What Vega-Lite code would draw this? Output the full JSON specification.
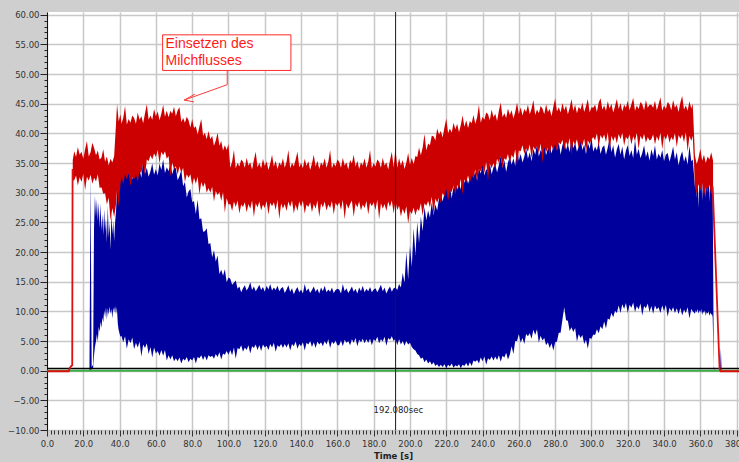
{
  "$schema": "https://vega.github.io/schema/vega-lite/v6.json",
  "width": 692,
  "height": 418,
  "autosize": {"type": "none"},
  "padding": {"left": 47, "top": 12, "right": 0, "bottom": 32},
  "background": "#cfcfcf",
  "config": {
    "view": {"fill": "white", "stroke": null},
    "axis": {"labelFont": "DejaVu Sans", "labelFontSize": 8.5, "labelColor": "#333333", "titleFont": "DejaVu Sans"}
  },
  "datasets": {
    "blue": [
      {"t":23.4,"v":0,"v2":0},{"t":24.0,"v":0.2,"v2":33.0},{"t":24.6,"v":0.2,"v2":0.6},{"t":25.4,"v":0.4,"v2":1.0},
      {"t":25.9,"v":2.5,"v2":24.0},{"t":26.4,"v":4.0,"v2":29.5},{"t":27.0,"v":5.0,"v2":26.0},{"t":27.5,"v":6.2,"v2":28.9},
      {"t":28.0,"v":4.8,"v2":25.2},{"t":28.5,"v":7.4,"v2":28.4},{"t":29.0,"v":6.5,"v2":24.0},{"t":29.5,"v":8.3,"v2":28.2},
      {"t":30.0,"v":7.2,"v2":23.5},{"t":30.5,"v":9.0,"v2":26.4},{"t":31.0,"v":8.1,"v2":22.8},{"t":31.5,"v":10.2,"v2":27.2},
      {"t":32.0,"v":9.0,"v2":23.6},{"t":32.5,"v":10.7,"v2":25.6},{"t":33.0,"v":8.6,"v2":21.5},{"t":33.5,"v":10.5,"v2":27.8},
      {"t":34.0,"v":9.4,"v2":22.4},{"t":34.5,"v":10.8,"v2":25.0},{"t":35.0,"v":9.6,"v2":20.4},{"t":35.5,"v":10.4,"v2":26.6},
      {"t":36.0,"v":8.8,"v2":23.0},{"t":36.5,"v":10.6,"v2":25.2},{"t":37.0,"v":9.9,"v2":21.8},{"t":37.5,"v":10.9,"v2":24.9},
      {"t":38.0,"v":9.5,"v2":26.8},{"t":38.5,"v":10.7,"v2":29.5},{"t":39.0,"v":8.0,"v2":31.0},{"t":39.4,"v":7.0,"v2":33.2},
      {"t":40.4,"v":5.7,"v2":32.4},{"t":41,"v":5.9,"v2":34.1},{"t":42,"v":4.8,"v2":32.6},{"t":43,"v":5.8,"v2":33.8},
      {"t":44,"v":3.7,"v2":35.3},{"t":45,"v":5.3,"v2":33.1},{"t":46,"v":4.6,"v2":34.3},{"t":47,"v":5.6,"v2":32.2},
      {"t":48,"v":3.6,"v2":33.7},{"t":49,"v":4.7,"v2":34.6},{"t":50,"v":3.9,"v2":32.9},{"t":51,"v":4.9,"v2":33.9},
      {"t":52,"v":2.4,"v2":32.5},{"t":53,"v":4.4,"v2":35.7},{"t":54,"v":3.8,"v2":33.2},{"t":55,"v":4.6,"v2":34.2},
      {"t":56,"v":2.8,"v2":32.7},{"t":57,"v":4.0,"v2":33.6},{"t":58,"v":2.2,"v2":34.9},{"t":59,"v":3.9,"v2":33.0},
      {"t":60,"v":2.9,"v2":34.0},{"t":61,"v":3.3,"v2":32.9},{"t":62,"v":2.5,"v2":34.9},{"t":63,"v":3.5,"v2":33.8},
      {"t":64,"v":2.5,"v2":35.6},{"t":65,"v":3.5,"v2":33.3},{"t":66,"v":1.7,"v2":34.3},{"t":67,"v":2.6,"v2":33.6},
      {"t":68,"v":1.9,"v2":35.0},{"t":69,"v":2.6,"v2":33.1},{"t":70,"v":1.6,"v2":34.2},{"t":71,"v":2.1,"v2":34.1},
      {"t":72,"v":1.6,"v2":32.1},{"t":73,"v":2.2,"v2":32.8},{"t":74,"v":1.2,"v2":33.8},{"t":75,"v":2.0,"v2":31.1},
      {"t":76,"v":1.7,"v2":31.8},{"t":77,"v":2.3,"v2":29.2},{"t":78,"v":1.4,"v2":30.2},{"t":79,"v":2.0,"v2":30.6},
      {"t":80,"v":1.7,"v2":28.4},{"t":81,"v":2.3,"v2":28.6},{"t":82,"v":1.2,"v2":26.4},{"t":83,"v":2.3,"v2":28.8},
      {"t":84,"v":2.1,"v2":25.5},{"t":85,"v":2.6,"v2":25.7},{"t":86,"v":1.8,"v2":23.4},{"t":87,"v":2.5,"v2":23.5},
      {"t":88,"v":1.7,"v2":24.0},{"t":89,"v":2.6,"v2":21.3},{"t":90,"v":2.3,"v2":21.5},{"t":91,"v":2.5,"v2":19.1},
      {"t":92,"v":2.0,"v2":20.3},{"t":93,"v":2.8,"v2":18.4},{"t":94,"v":2.3,"v2":19.4},{"t":95,"v":3.1,"v2":16.3},
      {"t":96,"v":1.9,"v2":17.0},{"t":97,"v":2.9,"v2":16.0},{"t":98,"v":2.7,"v2":17.1},{"t":99,"v":3.3,"v2":14.9},
      {"t":100,"v":2.7,"v2":15.7},{"t":101,"v":3.5,"v2":15.5},{"t":102,"v":2.6,"v2":14.5},{"t":103,"v":3.9,"v2":14.8},
      {"t":104,"v":2.0,"v2":15.2},{"t":105,"v":3.8,"v2":13.8},{"t":106,"v":3.6,"v2":14.2},{"t":107,"v":4.3,"v2":13.2},
      {"t":108,"v":3.2,"v2":13.9},{"t":109,"v":3.9,"v2":14.4},{"t":110,"v":3.5,"v2":13.5},{"t":111,"v":4.3,"v2":14.0},
      {"t":112,"v":2.9,"v2":14.9},{"t":113,"v":4.1,"v2":13.6},{"t":114,"v":3.8,"v2":14.2},{"t":115,"v":4.4,"v2":13.4},
      {"t":116,"v":3.5,"v2":13.9},{"t":117,"v":4.3,"v2":14.5},{"t":118,"v":3.3,"v2":13.6},{"t":119,"v":4.4,"v2":14.1},
      {"t":120,"v":3.9,"v2":13.3},{"t":121,"v":4.2,"v2":14.3},{"t":122,"v":3.5,"v2":13.7},{"t":123,"v":4.5,"v2":14.6},
      {"t":124,"v":3.9,"v2":13.5},{"t":125,"v":4.7,"v2":14.0},{"t":126,"v":3.2,"v2":13.6},{"t":127,"v":4.3,"v2":14.3},
      {"t":128,"v":4.0,"v2":13.4},{"t":129,"v":4.5,"v2":13.9},{"t":130,"v":3.8,"v2":14.1},{"t":131,"v":4.5,"v2":13.1},
      {"t":132,"v":3.9,"v2":13.7},{"t":133,"v":4.6,"v2":14.4},{"t":134,"v":3.4,"v2":13.3},{"t":135,"v":4.5,"v2":13.9},
      {"t":136,"v":4.1,"v2":12.9},{"t":137,"v":4.9,"v2":13.6},{"t":138,"v":3.7,"v2":14.1},{"t":139,"v":4.5,"v2":13.2},
      {"t":140,"v":4.1,"v2":13.7},{"t":141,"v":4.8,"v2":13.0},{"t":142,"v":3.4,"v2":14.6},{"t":143,"v":4.7,"v2":13.4},
      {"t":144,"v":4.4,"v2":13.9},{"t":145,"v":5.0,"v2":13.1},{"t":146,"v":4.0,"v2":13.6},{"t":147,"v":4.8,"v2":14.2},
      {"t":148,"v":3.8,"v2":13.3},{"t":149,"v":4.9,"v2":13.8},{"t":150,"v":4.4,"v2":13.0},{"t":151,"v":4.8,"v2":14.0},
      {"t":152,"v":4.1,"v2":13.4},{"t":153,"v":5.0,"v2":14.3},{"t":154,"v":4.4,"v2":13.2},{"t":155,"v":5.3,"v2":13.7},
      {"t":156,"v":3.8,"v2":13.3},{"t":157,"v":4.9,"v2":14.0},{"t":158,"v":4.5,"v2":13.1},{"t":159,"v":5.1,"v2":13.6},
      {"t":160,"v":4.3,"v2":13.8},{"t":161,"v":4.3,"v2":13.7},{"t":162,"v":5.1,"v2":13.0},{"t":163,"v":4.1,"v2":14.6},
      {"t":164,"v":5.2,"v2":13.4},{"t":165,"v":4.7,"v2":13.9},{"t":166,"v":5.0,"v2":13.1},{"t":167,"v":4.3,"v2":13.6},
      {"t":168,"v":5.3,"v2":14.2},{"t":169,"v":4.7,"v2":13.3},{"t":170,"v":5.5,"v2":13.8},{"t":171,"v":4.1,"v2":13.0},
      {"t":172,"v":5.2,"v2":14.0},{"t":173,"v":4.8,"v2":13.4},{"t":174,"v":5.4,"v2":14.3},{"t":175,"v":4.6,"v2":13.2},
      {"t":176,"v":5.3,"v2":13.8},{"t":177,"v":4.7,"v2":13.4},{"t":178,"v":5.4,"v2":14.1},{"t":179,"v":4.3,"v2":13.2},
      {"t":180,"v":5.3,"v2":13.7},{"t":181,"v":5.0,"v2":13.9},{"t":182,"v":5.7,"v2":13.2},{"t":183,"v":4.6,"v2":13.8},
      {"t":184,"v":5.3,"v2":14.5},{"t":185,"v":4.9,"v2":13.4},{"t":186,"v":5.7,"v2":14.0},{"t":187,"v":4.2,"v2":13.0},
      {"t":188,"v":5.5,"v2":13.7},{"t":189,"v":5.2,"v2":14.2},{"t":190,"v":5.8,"v2":13.3},{"t":191,"v":5.0,"v2":13.9},
      {"t":192,"v":5.4,"v2":14.0},{"t":193,"v":4.3,"v2":13.6},{"t":194,"v":5.3,"v2":14.6},{"t":195,"v":4.4,"v2":14.0},
      {"t":196,"v":5.0,"v2":16.5},{"t":197,"v":4.2,"v2":14.8},{"t":198,"v":5.0,"v2":20.0},{"t":199,"v":4.4,"v2":15.4},
      {"t":200,"v":4.7,"v2":21.0},{"t":201,"v":4.0,"v2":17.5},{"t":202,"v":3.6,"v2":24.0},{"t":203,"v":3.4,"v2":19.5},
      {"t":204,"v":2.8,"v2":25.0},{"t":205,"v":2.6,"v2":21.5},{"t":206,"v":2.0,"v2":26.0},{"t":207,"v":2.2,"v2":23.5},
      {"t":208,"v":1.4,"v2":27.6},{"t":209,"v":1.9,"v2":25.4},{"t":210,"v":1.2,"v2":27.0},{"t":211,"v":1.6,"v2":25.8},
      {"t":212,"v":1.0,"v2":28.4},{"t":213,"v":1.4,"v2":26.2},{"t":214,"v":0.8,"v2":28.0},{"t":215,"v":1.1,"v2":27.0},
      {"t":216,"v":0.6,"v2":29.0},{"t":217,"v":1.0,"v2":29.8},{"t":218,"v":0.6,"v2":28.5},{"t":219,"v":1.1,"v2":29.9},
      {"t":220,"v":0.4,"v2":31.6},{"t":221,"v":1.0,"v2":29.6},{"t":222,"v":0.7,"v2":31.0},{"t":223,"v":1.2,"v2":29.1},
      {"t":224,"v":0.5,"v2":30.9},{"t":225,"v":0.9,"v2":32.0},{"t":226,"v":0.7,"v2":30.5},{"t":227,"v":1.1,"v2":31.7},
      {"t":228,"v":0.4,"v2":30.5},{"t":229,"v":1.0,"v2":33.9},{"t":230,"v":0.8,"v2":31.6},{"t":231,"v":1.3,"v2":32.8},
      {"t":232,"v":0.7,"v2":31.5},{"t":233,"v":1.4,"v2":32.6},{"t":234,"v":0.8,"v2":34.2},{"t":235,"v":1.7,"v2":32.5},
      {"t":236,"v":1.5,"v2":33.6},{"t":237,"v":1.8,"v2":32.1},{"t":238,"v":1.2,"v2":34.2},{"t":239,"v":2.2,"v2":33.2},
      {"t":240,"v":1.6,"v2":35.1},{"t":241,"v":2.4,"v2":32.9},{"t":242,"v":1.0,"v2":34.0},{"t":243,"v":2.1,"v2":33.4},
      {"t":244,"v":1.8,"v2":34.9},{"t":245,"v":2.4,"v2":33.1},{"t":246,"v":1.7,"v2":34.3},{"t":247,"v":2.4,"v2":34.8},
      {"t":248,"v":1.8,"v2":33.4},{"t":249,"v":2.6,"v2":34.7},{"t":250,"v":1.5,"v2":36.3},{"t":251,"v":2.5,"v2":34.2},
      {"t":252,"v":2.2,"v2":35.5},{"t":253,"v":3.0,"v2":33.5},{"t":254,"v":1.9,"v2":35.1},{"t":255,"v":2.7,"v2":36.1},
      {"t":256,"v":4.1,"v2":34.7},{"t":257,"v":2.8,"v2":35.8},{"t":258,"v":5.0,"v2":34.5},{"t":259,"v":5.0,"v2":37.8},
      {"t":260,"v":6.2,"v2":35.4},{"t":261,"v":4.7,"v2":36.5},{"t":262,"v":5.5,"v2":35.1},{"t":263,"v":4.5,"v2":36.1},
      {"t":264,"v":6.2,"v2":37.5},{"t":265,"v":5.8,"v2":35.7},{"t":266,"v":6.3,"v2":36.8},{"t":267,"v":5.4,"v2":35.3},
      {"t":268,"v":6.9,"v2":37.4},{"t":269,"v":6.0,"v2":36.4},{"t":270,"v":7.0,"v2":38.3},{"t":271,"v":4.7,"v2":36.1},
      {"t":272,"v":5.9,"v2":37.2},{"t":273,"v":5.1,"v2":36.6},{"t":274,"v":5.5,"v2":38.1},{"t":275,"v":4.3,"v2":36.3},
      {"t":276,"v":4.8,"v2":37.5},{"t":277,"v":3.8,"v2":38.0},{"t":278,"v":4.6,"v2":36.6},{"t":279,"v":3.4,"v2":37.9},
      {"t":280,"v":4.8,"v2":39.4},{"t":281,"v":4.9,"v2":37.2},{"t":282,"v":6.4,"v2":38.5},{"t":283,"v":6.4,"v2":36.4},
      {"t":284,"v":8.6,"v2":38.0},{"t":285,"v":10.7,"v2":38.9},{"t":286,"v":8.5,"v2":37.2},{"t":287,"v":8.4,"v2":38.2},
      {"t":288,"v":6.7,"v2":36.8},{"t":289,"v":7.3,"v2":39.5},{"t":290,"v":6.5,"v2":37.5},{"t":291,"v":7.2,"v2":38.4},
      {"t":292,"v":4.9,"v2":36.9},{"t":293,"v":6.2,"v2":37.8},{"t":294,"v":5.5,"v2":39.1},{"t":295,"v":6.0,"v2":37.2},
      {"t":296,"v":4.5,"v2":38.1},{"t":297,"v":5.2,"v2":36.5},{"t":298,"v":3.7,"v2":38.5},{"t":299,"v":5.5,"v2":37.4},
      {"t":300,"v":5.4,"v2":39.2},{"t":301,"v":6.1,"v2":36.9},{"t":302,"v":6.0,"v2":37.8},{"t":303,"v":7.0,"v2":37.1},
      {"t":304,"v":6.3,"v2":38.5},{"t":305,"v":7.5,"v2":36.5},{"t":306,"v":7.0,"v2":37.6},{"t":307,"v":8.3,"v2":38.0},
      {"t":308,"v":7.1,"v2":36.4},{"t":309,"v":8.8,"v2":37.6},{"t":310,"v":8.6,"v2":39.1},{"t":311,"v":9.7,"v2":36.8},
      {"t":312,"v":9.0,"v2":38.0},{"t":313,"v":10.1,"v2":35.9},{"t":314,"v":9.7,"v2":37.3},{"t":315,"v":11.0,"v2":38.2},
      {"t":316,"v":9.7,"v2":36.4},{"t":317,"v":11.2,"v2":37.8},{"t":318,"v":10.4,"v2":35.6},{"t":319,"v":11.4,"v2":37.1},
      {"t":320,"v":9.7,"v2":38.0},{"t":321,"v":11.1,"v2":36.2},{"t":322,"v":10.6,"v2":37.2},{"t":323,"v":11.5,"v2":35.8},
      {"t":324,"v":9.9,"v2":38.9},{"t":325,"v":10.9,"v2":36.4},{"t":326,"v":10.3,"v2":37.4},{"t":327,"v":11.3,"v2":35.8},
      {"t":328,"v":9.3,"v2":36.7},{"t":329,"v":10.9,"v2":38.0},{"t":330,"v":10.5,"v2":36.0},{"t":331,"v":11.3,"v2":37.0},
      {"t":332,"v":9.9,"v2":35.4},{"t":333,"v":10.9,"v2":37.3},{"t":334,"v":9.6,"v2":36.2},{"t":335,"v":11.0,"v2":38.0},
      {"t":336,"v":10.3,"v2":35.6},{"t":337,"v":10.7,"v2":36.6},{"t":338,"v":9.7,"v2":35.9},{"t":339,"v":11.0,"v2":37.2},
      {"t":340,"v":10.0,"v2":35.3},{"t":341,"v":11.1,"v2":36.4},{"t":342,"v":9.1,"v2":36.7},{"t":343,"v":10.6,"v2":35.2},
      {"t":344,"v":10.0,"v2":36.4},{"t":345,"v":10.7,"v2":37.8},{"t":346,"v":9.7,"v2":35.6},{"t":347,"v":10.5,"v2":36.8},
      {"t":348,"v":9.5,"v2":34.6},{"t":349,"v":10.6,"v2":36.1},{"t":350,"v":9.3,"v2":37.0},{"t":351,"v":10.3,"v2":35.2},
      {"t":352,"v":9.7,"v2":36.2},{"t":353,"v":10.7,"v2":34.7},{"t":354,"v":8.8,"v2":37.9},{"t":355,"v":10.4,"v2":35.3},
      {"t":355.8,"v":10.0,"v2":35.6},{"t":356.5,"v":9.8,"v2":33.0},{"t":357,"v":9.6,"v2":31.0},{"t":357.5,"v":10.2,"v2":34.2},
      {"t":358,"v":9.8,"v2":29.0},{"t":358.5,"v":10.4,"v2":33.6},{"t":359,"v":9.6,"v2":27.4},{"t":359.5,"v":10.2,"v2":32.4},
      {"t":360,"v":9.8,"v2":30.2},{"t":360.5,"v":10.4,"v2":34.0},{"t":361,"v":9.4,"v2":28.6},{"t":361.5,"v":10.0,"v2":33.2},
      {"t":362,"v":9.7,"v2":30.8},{"t":362.5,"v":10.2,"v2":34.4},{"t":363,"v":9.2,"v2":29.0},{"t":363.5,"v":9.9,"v2":33.0},
      {"t":364,"v":9.6,"v2":30.0},{"t":364.5,"v":10.0,"v2":34.2},{"t":365,"v":9.2,"v2":28.4},{"t":365.5,"v":9.8,"v2":32.8},
      {"t":366,"v":9.4,"v2":30.6},{"t":366.4,"v":9.6,"v2":33.6},{"t":366.8,"v":9.0,"v2":30.6},{"t":367.4,"v":0.4,"v2":0.8},
      {"t":368,"v":0,"v2":0},{"t":370.9,"v":0,"v2":0},{"t":371.3,"v":0,"v2":3.8},{"t":371.7,"v":0,"v2":0}
    ],
    "red": [
      {"t":14.2,"v":32.0,"v2":35.5},{"t":15,"v":32.1,"v2":37.0},{"t":16,"v":32.9,"v2":36.0},{"t":17,"v":31.2,"v2":37.7},
      {"t":18,"v":32.6,"v2":36.4},{"t":19,"v":31.8,"v2":36.9},{"t":20,"v":33.2,"v2":35.7},{"t":21,"v":30.4,"v2":37.3},
      {"t":22,"v":32.7,"v2":38.7},{"t":23,"v":32.0,"v2":36.1},{"t":24,"v":33.0,"v2":36.8},{"t":25,"v":31.5,"v2":38.4},
      {"t":26,"v":32.5,"v2":37.5},{"t":27,"v":31.9,"v2":36.3},{"t":28,"v":33.1,"v2":37.1},{"t":29,"v":30.8,"v2":35.6},
      {"t":30,"v":30.9,"v2":35.9},{"t":31,"v":29.8,"v2":37.3},{"t":32,"v":29.9,"v2":35.2},{"t":33,"v":28.0,"v2":36.1},
      {"t":34,"v":29.2,"v2":34.6},{"t":35,"v":25.3,"v2":35.7},{"t":36,"v":27.4,"v2":35.1},{"t":37,"v":25.9,"v2":36.2},
      {"t":38,"v":28.0,"v2":41.5},{"t":38.6,"v":30.5,"v2":45.0},{"t":39.5,"v":27.5,"v2":42.0},{"t":40.5,"v":31.5,"v2":43.2},
      {"t":41,"v":32.7,"v2":41.6},{"t":42,"v":31.5,"v2":42.6},{"t":43,"v":33.1,"v2":44.6},{"t":44,"v":32.2,"v2":41.5},
      {"t":45,"v":33.3,"v2":42.4},{"t":46,"v":31.1,"v2":41.8},{"t":47,"v":32.6,"v2":43.0},{"t":48,"v":32.2,"v2":42.6},
      {"t":49,"v":33.0,"v2":41.6},{"t":50,"v":31.8,"v2":43.5},{"t":51,"v":33.6,"v2":42.3},{"t":52,"v":33.3,"v2":42.9},
      {"t":53,"v":35.1,"v2":41.7},{"t":54,"v":32.8,"v2":43.4},{"t":55,"v":35.6,"v2":44.9},{"t":56,"v":35.3,"v2":42.3},
      {"t":57,"v":36.3,"v2":43.0},{"t":58,"v":35.6,"v2":42.3},{"t":59,"v":36.6,"v2":44.1},{"t":60,"v":36.0,"v2":42.9},
      {"t":61,"v":37.2,"v2":43.7},{"t":62,"v":34.9,"v2":42.2},{"t":63,"v":36.9,"v2":43.3},{"t":64,"v":36.3,"v2":44.8},
      {"t":65,"v":37.0,"v2":42.8},{"t":66,"v":35.7,"v2":43.8},{"t":67,"v":36.2,"v2":42.7},{"t":68,"v":32.6,"v2":43.8},
      {"t":69,"v":35.1,"v2":43.3},{"t":70,"v":33.9,"v2":44.5},{"t":71,"v":34.5,"v2":42.9},{"t":72,"v":33.0,"v2":43.9},
      {"t":73,"v":34.4,"v2":44.4},{"t":74,"v":33.3,"v2":41.9},{"t":75,"v":34.2,"v2":42.6},{"t":76,"v":31.8,"v2":41.8},
      {"t":77,"v":33.1,"v2":42.8},{"t":78,"v":32.5,"v2":42.2},{"t":79,"v":33.1,"v2":41.0},{"t":80,"v":31.3,"v2":42.4},
      {"t":81,"v":32.5,"v2":40.9},{"t":82,"v":31.5,"v2":41.2},{"t":83,"v":32.7,"v2":39.8},{"t":84,"v":29.7,"v2":41.2},
      {"t":85,"v":31.8,"v2":42.4},{"t":86,"v":30.9,"v2":39.6},{"t":87,"v":31.7,"v2":40.1},{"t":88,"v":30.0,"v2":39.0},
      {"t":89,"v":30.8,"v2":40.4},{"t":90,"v":30.0,"v2":39.0},{"t":91,"v":31.0,"v2":39.6},{"t":92,"v":28.5,"v2":37.9},
      {"t":93,"v":30.3,"v2":38.8},{"t":94,"v":29.6,"v2":40.1},{"t":95,"v":30.1,"v2":37.9},{"t":96,"v":28.6,"v2":38.7},
      {"t":97,"v":30.1,"v2":37.1},{"t":98,"v":26.6,"v2":38.0},{"t":99,"v":29.1,"v2":37.2},{"t":100,"v":28.0,"v2":38.2},
      {"t":101,"v":28.1,"v2":34.2},{"t":102,"v":26.9,"v2":35.2},{"t":103,"v":28.5,"v2":37.2},{"t":104,"v":27.6,"v2":34.1},
      {"t":105,"v":28.7,"v2":35.0},{"t":106,"v":26.5,"v2":34.4},{"t":107,"v":28.0,"v2":35.6},{"t":108,"v":27.6,"v2":35.2},
      {"t":109,"v":28.4,"v2":34.2},{"t":110,"v":26.7,"v2":35.9},{"t":111,"v":28.1,"v2":34.6},{"t":112,"v":27.3,"v2":35.1},
      {"t":113,"v":28.7,"v2":33.9},{"t":114,"v":25.9,"v2":35.5},{"t":115,"v":28.2,"v2":36.9},{"t":116,"v":27.5,"v2":34.3},
      {"t":117,"v":28.5,"v2":35.0},{"t":118,"v":27.0,"v2":34.1},{"t":119,"v":28.0,"v2":35.7},{"t":120,"v":27.4,"v2":34.5},
      {"t":121,"v":28.6,"v2":35.3},{"t":122,"v":26.3,"v2":33.8},{"t":123,"v":28.3,"v2":34.9},{"t":124,"v":27.7,"v2":36.4},
      {"t":125,"v":28.4,"v2":34.4},{"t":126,"v":27.1,"v2":35.4},{"t":127,"v":28.8,"v2":34.0},{"t":128,"v":25.5,"v2":35.1},
      {"t":129,"v":28.2,"v2":34.6},{"t":130,"v":27.3,"v2":35.8},{"t":131,"v":28.1,"v2":34.2},{"t":132,"v":26.9,"v2":35.2},
      {"t":133,"v":28.5,"v2":37.2},{"t":134,"v":27.6,"v2":34.1},{"t":135,"v":28.7,"v2":35.0},{"t":136,"v":26.5,"v2":34.4},
      {"t":137,"v":28.0,"v2":35.6},{"t":138,"v":26.9,"v2":36.9},{"t":139,"v":28.5,"v2":34.3},{"t":140,"v":27.6,"v2":35.0},
      {"t":141,"v":28.7,"v2":34.1},{"t":142,"v":26.5,"v2":35.7},{"t":143,"v":28.0,"v2":34.5},{"t":144,"v":27.6,"v2":35.3},
      {"t":145,"v":28.4,"v2":33.8},{"t":146,"v":26.7,"v2":34.9},{"t":147,"v":28.1,"v2":36.4},{"t":148,"v":27.3,"v2":34.4},
      {"t":149,"v":28.7,"v2":35.4},{"t":150,"v":25.9,"v2":34.0},{"t":151,"v":28.2,"v2":35.1},{"t":152,"v":27.5,"v2":34.6},
      {"t":153,"v":28.5,"v2":35.8},{"t":154,"v":27.0,"v2":34.2},{"t":155,"v":28.0,"v2":35.2},{"t":156,"v":27.4,"v2":37.2},
      {"t":157,"v":28.6,"v2":34.1},{"t":158,"v":26.3,"v2":35.0},{"t":159,"v":28.3,"v2":34.4},{"t":160,"v":27.7,"v2":35.6},
      {"t":161,"v":28.4,"v2":35.2},{"t":162,"v":27.1,"v2":34.2},{"t":163,"v":28.8,"v2":35.9},{"t":164,"v":25.5,"v2":34.6},
      {"t":165,"v":28.2,"v2":35.1},{"t":166,"v":27.3,"v2":33.9},{"t":167,"v":28.1,"v2":35.5},{"t":168,"v":28.7,"v2":34.9},
      {"t":169,"v":25.9,"v2":36.4},{"t":170,"v":28.2,"v2":34.4},{"t":171,"v":27.5,"v2":35.4},{"t":172,"v":28.5,"v2":34.0},
      {"t":173,"v":27.0,"v2":35.1},{"t":174,"v":28.0,"v2":34.6},{"t":175,"v":27.4,"v2":35.8},{"t":176,"v":28.6,"v2":34.2},
      {"t":177,"v":26.3,"v2":35.2},{"t":178,"v":28.3,"v2":37.2},{"t":179,"v":27.7,"v2":34.1},{"t":180,"v":28.4,"v2":35.0},
      {"t":181,"v":27.1,"v2":34.4},{"t":182,"v":28.8,"v2":35.6},{"t":183,"v":25.5,"v2":35.2},{"t":184,"v":28.2,"v2":34.2},
      {"t":185,"v":27.3,"v2":35.9},{"t":186,"v":28.1,"v2":34.6},{"t":187,"v":26.9,"v2":35.1},{"t":188,"v":28.5,"v2":33.9},
      {"t":189,"v":27.6,"v2":35.5},{"t":190,"v":28.7,"v2":36.9},{"t":191,"v":26.5,"v2":34.3},{"t":192,"v":28.6,"v2":37.5},
      {"t":193,"v":27.1,"v2":34.2},{"t":194,"v":27.8,"v2":35.8},{"t":195,"v":26.0,"v2":34.6},{"t":196,"v":27.3,"v2":35.5},
      {"t":197,"v":26.4,"v2":34.0},{"t":198,"v":27.7,"v2":35.1},{"t":199,"v":24.8,"v2":36.7},{"t":200,"v":26.9,"v2":34.7},
      {"t":201,"v":26.4,"v2":35.9},{"t":202,"v":27.5,"v2":34.8},{"t":203,"v":26.2,"v2":36.2},{"t":204,"v":27.3,"v2":36.0},
      {"t":205,"v":26.9,"v2":37.6},{"t":206,"v":28.2,"v2":36.3},{"t":207,"v":26.1,"v2":37.6},{"t":208,"v":28.2,"v2":39.9},
      {"t":209,"v":27.8,"v2":37.1},{"t":210,"v":28.6,"v2":38.3},{"t":211,"v":27.5,"v2":38.0},{"t":212,"v":29.3,"v2":39.6},
      {"t":213,"v":26.2,"v2":39.5},{"t":214,"v":29.0,"v2":38.8},{"t":215,"v":28.3,"v2":40.8},{"t":216,"v":29.2,"v2":39.8},
      {"t":217,"v":28.2,"v2":40.4},{"t":218,"v":30.0,"v2":39.3},{"t":219,"v":29.3,"v2":41.0},{"t":220,"v":30.6,"v2":42.5},
      {"t":221,"v":28.6,"v2":40.0},{"t":222,"v":30.3,"v2":40.8},{"t":223,"v":30.1,"v2":40.1},{"t":224,"v":31.2,"v2":41.8},
      {"t":225,"v":29.7,"v2":40.7},{"t":226,"v":31.3,"v2":41.6},{"t":227,"v":30.7,"v2":40.2},{"t":228,"v":32.3,"v2":41.4},
      {"t":229,"v":29.7,"v2":43.0},{"t":230,"v":32.2,"v2":41.1},{"t":231,"v":31.7,"v2":42.2},{"t":232,"v":32.9,"v2":40.9},
      {"t":233,"v":31.6,"v2":42.1},{"t":234,"v":32.9,"v2":41.7},{"t":235,"v":32.5,"v2":43.1},{"t":236,"v":33.9,"v2":41.6},
      {"t":237,"v":31.8,"v2":42.7},{"t":238,"v":34.0,"v2":44.8},{"t":239,"v":33.6,"v2":41.8},{"t":240,"v":34.5,"v2":42.8},
      {"t":241,"v":33.3,"v2":42.3},{"t":242,"v":35.2,"v2":43.5},{"t":243,"v":32.0,"v2":43.2},{"t":244,"v":34.9,"v2":42.2},
      {"t":245,"v":34.1,"v2":44.0},{"t":246,"v":35.0,"v2":42.7},{"t":247,"v":34.0,"v2":43.3},{"t":248,"v":35.7,"v2":42.1},
      {"t":249,"v":35.0,"v2":43.8},{"t":250,"v":36.2,"v2":45.2},{"t":251,"v":34.1,"v2":42.7},{"t":252,"v":35.8,"v2":43.4},
      {"t":253,"v":35.5,"v2":42.6},{"t":254,"v":36.5,"v2":44.2},{"t":255,"v":34.9,"v2":43.1},{"t":256,"v":36.4,"v2":43.9},
      {"t":257,"v":35.8,"v2":42.5},{"t":258,"v":37.3,"v2":43.6},{"t":259,"v":34.7,"v2":45.2},{"t":260,"v":37.1,"v2":43.2},
      {"t":261,"v":37.0,"v2":44.4},{"t":262,"v":38.0,"v2":43.0},{"t":263,"v":36.5,"v2":44.1},{"t":264,"v":37.5,"v2":43.6},
      {"t":265,"v":36.9,"v2":44.8},{"t":266,"v":38.1,"v2":43.2},{"t":267,"v":35.8,"v2":44.2},{"t":268,"v":37.8,"v2":45.6},
      {"t":269,"v":37.2,"v2":43.1},{"t":270,"v":37.9,"v2":44.0},{"t":271,"v":36.6,"v2":43.4},{"t":272,"v":38.3,"v2":44.6},
      {"t":273,"v":35.0,"v2":44.2},{"t":274,"v":37.7,"v2":43.2},{"t":275,"v":36.8,"v2":44.9},{"t":276,"v":37.6,"v2":43.6},
      {"t":277,"v":36.4,"v2":44.1},{"t":278,"v":38.0,"v2":42.9},{"t":279,"v":37.1,"v2":44.5},{"t":280,"v":38.2,"v2":45.9},
      {"t":281,"v":37.0,"v2":43.7},{"t":282,"v":38.5,"v2":44.4},{"t":283,"v":38.1,"v2":43.5},{"t":284,"v":38.9,"v2":45.1},
      {"t":285,"v":37.2,"v2":43.9},{"t":286,"v":38.6,"v2":44.7},{"t":287,"v":37.8,"v2":43.2},{"t":288,"v":39.2,"v2":44.3},
      {"t":289,"v":36.4,"v2":45.8},{"t":290,"v":38.7,"v2":43.8},{"t":291,"v":38.0,"v2":44.8},{"t":292,"v":39.0,"v2":43.4},
      {"t":293,"v":37.5,"v2":44.5},{"t":294,"v":38.5,"v2":44.0},{"t":295,"v":37.9,"v2":45.2},{"t":296,"v":39.1,"v2":43.6},
      {"t":297,"v":36.8,"v2":44.6},{"t":298,"v":38.8,"v2":45.8},{"t":299,"v":38.2,"v2":43.5},{"t":300,"v":38.9,"v2":44.4},
      {"t":301,"v":39.4,"v2":44.3},{"t":302,"v":38.8,"v2":44.8},{"t":303,"v":40.0,"v2":43.6},{"t":304,"v":37.7,"v2":45.2},
      {"t":305,"v":39.7,"v2":45.9},{"t":306,"v":39.1,"v2":44.0},{"t":307,"v":39.8,"v2":44.7},{"t":308,"v":38.5,"v2":43.8},
      {"t":309,"v":40.2,"v2":45.4},{"t":310,"v":36.9,"v2":44.2},{"t":311,"v":39.6,"v2":45.0},{"t":312,"v":38.7,"v2":43.5},
      {"t":313,"v":39.5,"v2":44.6},{"t":314,"v":38.3,"v2":45.8},{"t":315,"v":39.9,"v2":44.1},{"t":316,"v":39.0,"v2":45.1},
      {"t":317,"v":40.1,"v2":43.7},{"t":318,"v":37.9,"v2":44.8},{"t":319,"v":39.4,"v2":44.3},{"t":320,"v":39.0,"v2":45.5},
      {"t":321,"v":39.8,"v2":43.9},{"t":322,"v":38.1,"v2":44.9},{"t":323,"v":39.5,"v2":46.0},{"t":324,"v":38.7,"v2":43.8},
      {"t":325,"v":40.1,"v2":44.7},{"t":326,"v":37.3,"v2":44.1},{"t":327,"v":39.6,"v2":45.3},{"t":328,"v":38.9,"v2":44.9},
      {"t":329,"v":39.9,"v2":43.9},{"t":330,"v":38.4,"v2":45.6},{"t":331,"v":39.4,"v2":44.3},{"t":332,"v":38.8,"v2":44.8},
      {"t":333,"v":39.0,"v2":44.8},{"t":334,"v":39.8,"v2":44.3},{"t":335,"v":38.1,"v2":45.5},{"t":336,"v":39.5,"v2":43.9},
      {"t":337,"v":38.7,"v2":44.9},{"t":338,"v":40.1,"v2":46.1},{"t":339,"v":37.3,"v2":43.8},{"t":340,"v":39.6,"v2":44.7},
      {"t":341,"v":38.9,"v2":44.1},{"t":342,"v":39.9,"v2":45.3},{"t":343,"v":38.4,"v2":44.9},{"t":344,"v":39.4,"v2":43.9},
      {"t":345,"v":38.8,"v2":45.6},{"t":346,"v":40.0,"v2":44.3},{"t":347,"v":37.7,"v2":44.8},{"t":348,"v":39.7,"v2":43.6},
      {"t":349,"v":39.1,"v2":45.2},{"t":350,"v":39.8,"v2":46.3},{"t":351,"v":38.5,"v2":44.0},{"t":352,"v":40.2,"v2":44.7},
      {"t":353,"v":36.9,"v2":43.8},{"t":354,"v":39.6,"v2":45.4},{"t":355,"v":38.7,"v2":44.2},{"t":355.8,"v":39.6,"v2":45.0},
      {"t":356.5,"v":35.0,"v2":40.0},{"t":357,"v":31.0,"v2":36.3},{"t":358,"v":29.8,"v2":34.8},{"t":359,"v":31.4,"v2":35.9},
      {"t":360,"v":30.5,"v2":37.4},{"t":361,"v":31.6,"v2":35.4},{"t":362,"v":29.4,"v2":36.4},{"t":363,"v":30.9,"v2":35.0},
      {"t":364,"v":30.5,"v2":36.1},{"t":365,"v":31.3,"v2":35.6},{"t":366,"v":29.6,"v2":36.8},{"t":367,"v":30.8,"v2":35.4}
    ],
    "redStart": [
      {"t": 0, "v": -0.1}, {"t": 12, "v": -0.1}, {"t": 12.6, "v": 0.5}, {"t": 13.4, "v": 0.8}, {"t": 13.9, "v": 0.9}, {"t": 14.1, "v": 34.0}
    ],
    "redEnd": [
      {"t": 366.8, "v": 31.0}, {"t": 370.6, "v": 0.3}, {"t": 371.2, "v": -0.1}, {"t": 381.3, "v": -0.1}
    ],
    "baselines": [
      {"t": 0, "t2": 381.3, "v": 0, "name": "null"},
      {"t": 0, "t2": 381.3, "v": 0.35, "name": "ref"}
    ],
    "arrow": [
      {"seg": "stem", "o": 0, "t": 99.3, "v": 50.6},
      {"seg": "stem", "o": 1, "t": 99.3, "v": 48.2},
      {"seg": "stem", "o": 2, "t": 75.6, "v": 45.6},
      {"seg": "head", "o": 0, "t": 81.5, "v": 46.6},
      {"seg": "head", "o": 1, "t": 75.6, "v": 45.6},
      {"seg": "head", "o": 2, "t": 81.0, "v": 45.3}
    ]
  },
  "encoding": {
    "x": {
      "field": "t",
      "type": "quantitative",
      "scale": {"domain": [0, 381.3], "nice": false, "zero": false},
      "axis": {
        "title": "Time [s]",
        "titleFontWeight": "bold",
        "titleFontSize": 8.5,
        "titleColor": "#222222",
        "titlePadding": 4,
        "values": [0,2,4,6,8,10,12,14,16,18,20,22,24,26,28,30,32,34,36,38,40,42,44,46,48,50,52,54,56,58,60,62,64,66,68,70,72,74,76,78,80,82,84,86,88,90,92,94,96,98,100,102,104,106,108,110,112,114,116,118,120,122,124,126,128,130,132,134,136,138,140,142,144,146,148,150,152,154,156,158,160,162,164,166,168,170,172,174,176,178,180,182,184,186,188,190,192,194,196,198,200,202,204,206,208,210,212,214,216,218,220,222,224,226,228,230,232,234,236,238,240,242,244,246,248,250,252,254,256,258,260,262,264,266,268,270,272,274,276,278,280,282,284,286,288,290,292,294,296,298,300,302,304,306,308,310,312,314,316,318,320,322,324,326,328,330,332,334,336,338,340,342,344,346,348,350,352,354,356,358,360,362,364,366,368,370,372,374,376,378,380],
        "format": ".1f",
        "labelExpr": "datum.value % 20 === 0 ? datum.label : ''",
        "labelOverlap": false,
        "labelFlush": false,
        "labelBound": false,
        "labelPadding": 3,
        "domain": false,
        "tickColor": "#333333",
        "tickSize": {"condition": {"test": "datum.value % 20 === 0", "value": 6}, "value": 4},
        "grid": true,
        "gridColor": "#c8c8c8",
        "gridWidth": 1.5,
        "gridOpacity": {"condition": {"test": "datum.value % 20 === 0", "value": 1}, "value": 0}
      }
    },
    "y": {
      "field": "v",
      "type": "quantitative",
      "scale": {"domain": [-10, 60.45], "nice": false, "zero": false},
      "axis": {
        "title": null,
        "values": [-10,-9,-8,-7,-6,-5,-4,-3,-2,-1,0,1,2,3,4,5,6,7,8,9,10,11,12,13,14,15,16,17,18,19,20,21,22,23,24,25,26,27,28,29,30,31,32,33,34,35,36,37,38,39,40,41,42,43,44,45,46,47,48,49,50,51,52,53,54,55,56,57,58,59,60],
        "format": ".2f",
        "labelExpr": "datum.value % 5 === 0 ? datum.label : ''",
        "labelOverlap": false,
        "labelFlush": false,
        "labelBound": false,
        "labelPadding": 1,
        "domainColor": "#111111",
        "domainWidth": 1,
        "tickColor": "#222222",
        "tickSize": {"condition": {"test": "datum.value % 5 === 0", "value": 7}, "value": 3},
        "grid": true,
        "gridColor": "#c8c8c8",
        "gridWidth": 1.5,
        "gridOpacity": {"condition": {"test": "datum.value % 5 === 0", "value": 1}, "value": 0}
      }
    }
  },
  "layer": [
    {
      "data": {"name": "blue"},
      "mark": {"type": "area", "color": "#00009c", "opacity": 1},
      "encoding": {"y2": {"field": "v2"}}
    },
    {
      "data": {"name": "red"},
      "mark": {"type": "area", "color": "#cc0000", "opacity": 1},
      "encoding": {"y2": {"field": "v2"}}
    },
    {
      "data": {"name": "baselines"},
      "transform": [{"filter": "datum.name === 'null'"}],
      "mark": {"type": "rule", "color": "#3fae49", "strokeWidth": 2},
      "encoding": {"x2": {"field": "t2"}}
    },
    {
      "data": {"name": "baselines"},
      "transform": [{"filter": "datum.name === 'ref'"}],
      "mark": {"type": "rule", "color": "#000000", "strokeWidth": 1.5},
      "encoding": {"x2": {"field": "t2"}}
    },
    {
      "data": {"name": "redStart"},
      "mark": {"type": "line", "color": "#dd1111", "strokeWidth": 1.8},
      "encoding": {}
    },
    {
      "data": {"name": "redEnd"},
      "mark": {"type": "line", "color": "#dd1111", "strokeWidth": 1.8},
      "encoding": {}
    },
    {
      "data": {"values": [{"t": 192.08, "v": -10, "v2": 60.45}]},
      "mark": {"type": "rule", "color": "#1a1a1a", "strokeWidth": 1},
      "encoding": {"y2": {"field": "v2"}}
    },
    {
      "data": {"values": [{"t": 193.6, "v": -6.7, "s": "192.080sec"}]},
      "mark": {"type": "text", "font": "DejaVu Sans", "fontSize": 8.5, "color": "#222222", "align": "center", "baseline": "middle"},
      "encoding": {"text": {"field": "s"}}
    },
    {
      "data": {"values": [{"t": 63.7, "t2": 134.4, "v": 56.6, "v2": 50.6}]},
      "mark": {"type": "rect", "fill": "white", "stroke": "#ff2a2a", "strokeWidth": 1},
      "encoding": {"x2": {"field": "t2"}, "y2": {"field": "v2"}}
    },
    {
      "data": {"values": [
        {"t": 65.3, "v": 54.4, "s": "Einsetzen des"},
        {"t": 65.3, "v": 51.5, "s": "Milchflusses"}
      ]},
      "mark": {"type": "text", "font": "Liberation Sans", "fontSize": 14, "color": "#ff1a1a", "align": "left", "baseline": "alphabetic"},
      "encoding": {"text": {"field": "s"}}
    },
    {
      "data": {"name": "arrow"},
      "mark": {"type": "line", "color": "#ff3b3b", "strokeWidth": 1},
      "encoding": {"detail": {"field": "seg"}, "order": {"field": "o"}}
    }
  ]
}
